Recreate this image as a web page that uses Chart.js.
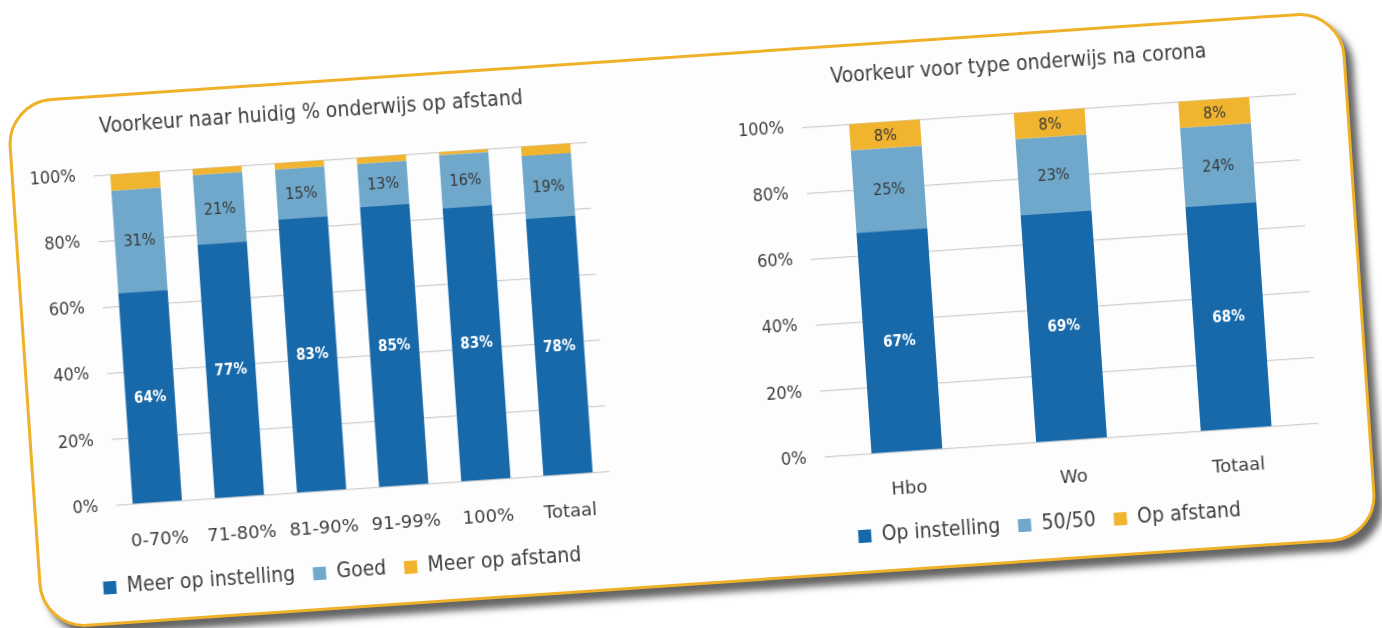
<!DOCTYPE html>
<html>
<head>
<meta charset="utf-8">
<script src="https://cdn.jsdelivr.net/npm/chart.js@4.4.0/dist/chart.umd.min.js"></script>
<style>
  body { margin: 0; background: #fff; width: 1382px; height: 628px; overflow: hidden; }
  #card {
    position: absolute; left: 22px; top: 55px; width: 1340px; height: 530px;
    box-sizing: border-box; border: 3px solid #f0b12a; border-radius: 46px;
    background: #fdfdfd; box-shadow: 7px 9px 7px rgba(50, 50, 50, 0.75);
    transform: rotate(-3.9deg);
  }
  .box { position: absolute; top: 0; height: 524px; }
  #leftBox { left: 10px; width: 578px; }
  #rightBox { left: 720px; width: 575px; }
</style>
</head>
<body>
<div id="card">
  <div class="box" id="leftBox"><canvas id="leftChart"></canvas></div>
  <div class="box" id="rightBox"><canvas id="rightChart"></canvas></div>
</div>
<script>
// data
const leftCats = ['0-70%', '71-80%', '81-90%', '91-99%', '100%', 'Totaal'];
const leftInstelling = [64, 77, 83, 85, 83, 78];
const leftGoed = [31, 21, 15, 13, 16, 19];
const leftAfstand = [5, 2, 2, 2, 1, 3];

const rightCats = ['Hbo', 'Wo', 'Totaal'];
const rightInstelling = [67, 69, 68];
const rightMix = [25, 23, 24];
const rightAfstand = [8, 8, 8];

const yTicks = [0, 20, 40, 60, 80, 100];

const FONT = "'DejaVu Sans Condensed', 'Noto Sans', sans-serif";
const DARK = '#1769aa';
const LIGHT = '#6fa8cb';
const YELLOW = '#f0b42e';
const TEXT = '#404040';

// draws the value in the middle of each bar segment
const barLabels = {
    id: 'barLabels',
    afterDatasetsDraw(chart) {
        const ctx = chart.ctx;
        chart.data.datasets.forEach((ds, i) => {
            if (!ds.labelColor) return;
            chart.getDatasetMeta(i).data.forEach((bar, j) => {
                ctx.save();
                ctx.fillStyle = ds.labelColor;
                ctx.font = ds.labelFont;
                ctx.textAlign = 'center';
                ctx.textBaseline = 'middle';
                ctx.fillText(ds.data[j] + '%', bar.x, (bar.y + bar.base) / 2 + 1);
                ctx.restore();
            });
        });
    }
};

// yWidth: room for the % labels, rightGap: empty strip right of the bars
// (keeps the title and legend centred where they sit in the picture)
function makeChart(id, title, cats, datasets, yWidth, padLeft, rightGap, barPct) {
    const ctx = document.getElementById(id).getContext('2d');
    return new Chart(ctx, {
        type: 'bar',
        data: { labels: cats, datasets: datasets },
        plugins: [barLabels],
        options: {
            responsive: true,
            maintainAspectRatio: false,
            animation: false,
            datasets: { bar: { barPercentage: barPct, categoryPercentage: 1, borderWidth: 0 } },
            layout: { padding: { top: 0, bottom: 14, left: padLeft, right: 0 } },
            plugins: {
                title: {
                    display: true, text: title, color: TEXT,
                    font: { family: FONT, size: 21, weight: 'normal' },
                    padding: { top: 17, bottom: 35 }
                },
                legend: {
                    position: 'bottom',
                    labels: {
                        color: TEXT, boxWidth: 13, boxHeight: 13, padding: 18,
                        font: { family: FONT, size: 21 }
                    }
                },
                tooltip: { enabled: false }
            },
            scales: {
                x: {
                    stacked: true,
                    grid: { display: false },
                    border: { display: false },
                    ticks: { color: TEXT, padding: 19, font: { family: "'DejaVu Sans', sans-serif", size: 18 } },
                    afterFit: s => { s.height = 53; }
                },
                y: {
                    stacked: true, min: 0, max: 100,
                    border: { display: false },
                    grid: { color: '#cfcfcf', lineWidth: 1.3, drawTicks: false },
                    afterBuildTicks: s => { s.ticks = yTicks.map(v => ({ value: v })); },
                    ticks: {
                        color: TEXT, padding: 18, font: { family: FONT, size: 18 },
                        callback: v => v + '%'
                    },
                    afterFit: s => { s.width = yWidth; }
                },
                gap: {
                    type: 'linear', position: 'right', display: true,
                    grid: { display: false }, border: { display: false },
                    ticks: { display: false },
                    afterFit: s => { s.width = rightGap; }
                }
            }
        }
    });
}

makeChart('leftChart', 'Voorkeur naar huidig % onderwijs op afstand', leftCats, [
    { label: 'Meer op instelling', data: leftInstelling, backgroundColor: DARK,
      labelColor: '#ffffff', labelFont: 'bold 15px ' + FONT },
    { label: 'Goed', data: leftGoed, backgroundColor: LIGHT,
      labelColor: '#383838', labelFont: '16px ' + FONT },
    { label: 'Meer op afstand', data: leftAfstand, backgroundColor: YELLOW }
], 66, 4, 14, 0.6);

makeChart('rightChart', 'Voorkeur voor type onderwijs na corona', rightCats, [
    { label: 'Op instelling', data: rightInstelling, backgroundColor: DARK,
      labelColor: '#ffffff', labelFont: 'bold 15px ' + FONT },
    { label: '50/50', data: rightMix, backgroundColor: LIGHT,
      labelColor: '#383838', labelFont: '16px ' + FONT },
    { label: 'Op afstand', data: rightAfstand, backgroundColor: YELLOW,
      labelColor: '#383838', labelFont: '16px ' + FONT }
], 65, 5, 10, 0.43);
</script>
</body>
</html>
